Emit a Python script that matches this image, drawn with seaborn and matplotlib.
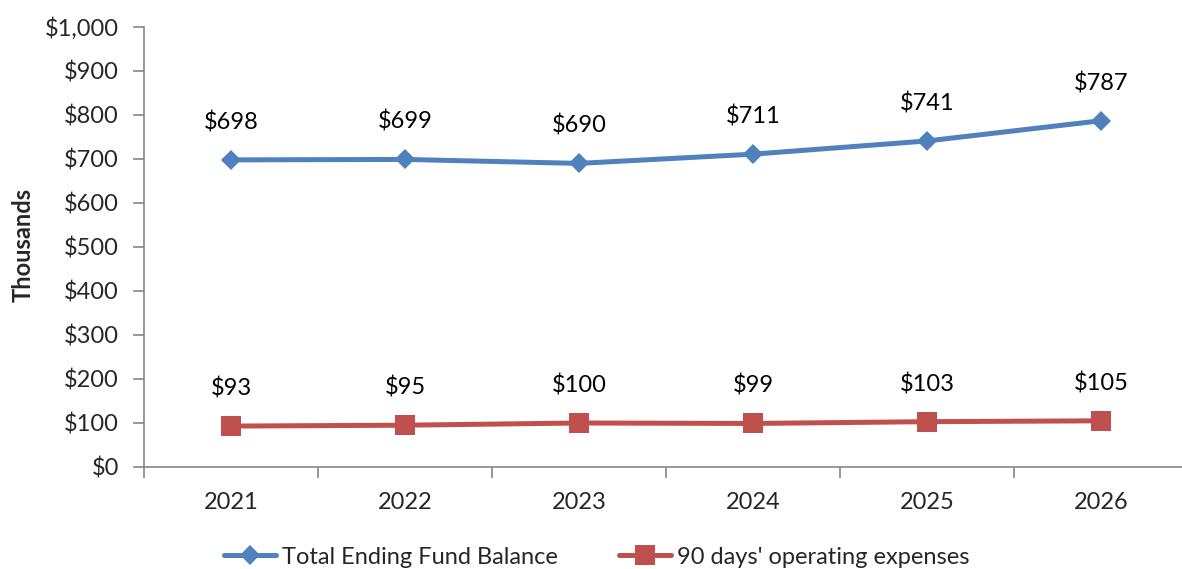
import matplotlib
matplotlib.use("Agg")
import matplotlib.pyplot as plt
import seaborn as sns
import pandas as pd
from matplotlib.ticker import FuncFormatter, FixedLocator
from matplotlib.lines import Line2D

years = ["2021", "2022", "2023", "2024", "2025", "2026"]
fund_balance = [698, 699, 690, 711, 741, 787]
operating_90 = [93, 95, 100, 99, 103, 105]
series_names = ["Total Ending Fund Balance", "90 days' operating expenses"]

sns.set_theme(style="white")
plt.rcParams['font.family'] = ['Lato', 'DejaVu Sans']
FS = 17

fig = plt.figure(figsize=(11.82, 5.69), dpi=100)
ax = fig.add_axes([144 / 1182, 1 - 467 / 569, 1044 / 1182, 440 / 569])

colors = ["#4F81BD", "#C0504D"]
markers = ["D", "s"]
msizes = [10.5, 14]
LW = 3.6

for vals, name, c, m, ms in zip((fund_balance, operating_90), series_names, colors, markers, msizes):
    d = pd.DataFrame({"x": range(len(years)), "value": vals})
    sns.lineplot(data=d, x="x", y="value", color=c, marker=m, markersize=ms,
                 markeredgewidth=0, linewidth=LW, ax=ax, legend=False)
    for i, v in enumerate(vals):
        ax.annotate(f"${v}", (i, v), xytext=(0, 27), textcoords="offset points",
                    ha="center", va="center", fontsize=FS, color="black")

ax.set_xlim(-0.5, len(years) - 0.5)
ax.set_ylim(0, 1000)
ax.set_yticks(range(0, 1001, 100))
ax.yaxis.set_major_formatter(FuncFormatter(lambda v, p: f"${int(v):,}"))
ax.set_xticks(range(len(years)))
ax.set_xticklabels(years)
ax.xaxis.set_minor_locator(FixedLocator([i - 0.5 for i in range(len(years) + 1)]))
ax.tick_params(axis="x", which="major", length=0, pad=18, labelsize=FS)
ax.tick_params(axis="x", which="minor", length=8, width=1.2, color="#868686", direction="out", bottom=True)
ax.tick_params(axis="y", which="major", length=8, width=1.2, color="#868686", direction="out", left=True, pad=10, labelsize=FS)

for s in ("top", "right"):
    ax.spines[s].set_visible(False)
for s in ("left", "bottom"):
    ax.spines[s].set_color("#868686")
    ax.spines[s].set_linewidth(1.2)

ax.set_xlabel("")
ax.set_ylabel("Thousands", fontsize=FS, fontweight="bold")
ax.yaxis.set_label_coords(-0.105, 0.505)

handles = [Line2D([], [], color=c, marker=m, linewidth=LW, markersize=ms, markeredgewidth=0)
           for c, m, ms in zip(colors, markers, msizes)]
fig.legend(handles, series_names, loc="center", bbox_to_anchor=(0.505, 1 - 557 / 569),
           ncol=2, frameon=False, fontsize=FS, handlelength=2.2,
           handletextpad=0.25, columnspacing=2.6)

fig.savefig("out.png", dpi=100)
